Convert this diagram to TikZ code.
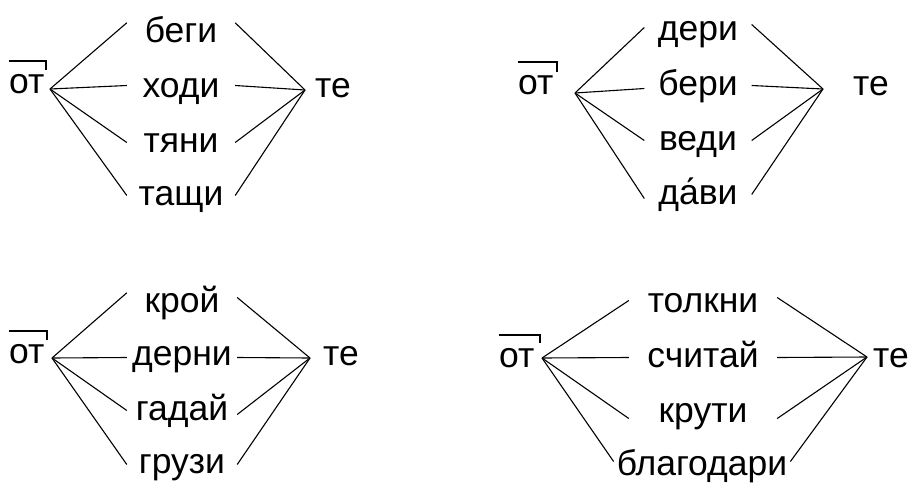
\documentclass[tikz,border=0pt]{standalone}
\usepackage{fontspec}
\setmainfont{Liberation Sans}
\begin{document}
\begin{tikzpicture}[x=1pt,y=-1pt,
  wd/.style={font=\fontsize{35.5}{40}\selectfont, inner xsep=0pt, inner ysep=0pt, text height=19pt, text depth=0pt, anchor=base},
  lbl/.style={font=\fontsize{35.5}{40}\selectfont, inner sep=0pt, text height=19pt, text depth=0pt, anchor=base west},
  ln/.style={line width=1.1pt},
  ovl/.style={line width=1.4pt}]
\useasboundingbox (0,0) rectangle (913,485);

% ---------- group 1 ----------
\node[lbl] (o1) at (9,93) {от};
\draw[ovl] ([yshift=32pt]o1.base west) -- ++(37,0) -- ++(0,9);
\coordinate (jl1) at (50,89);
\coordinate (jr1) at (305,90);
\node[wd, minimum width=108pt] (a1) at (181,42) {беги};
\node[wd, minimum width=108pt] (a2) at (181,97) {ходи};
\node[wd, minimum width=108pt] (a3) at (181,152) {тяни};
\node[wd, minimum width=108pt] (a4) at (181,205) {тащи};
\node[lbl] (t1) at (315,97) {те};
\draw[ln] (jl1) -- (a1.north west);
\draw[ln] (jl1) -- ([yshift=2pt]a2.west);
\draw[ln] (jl1) -- (a3.west);
\draw[ln] (jl1) -- (a4.west);
\draw[ln] (a1.north east) -- (jr1);
\draw[ln] ([yshift=2pt]a2.east) -- (jr1);
\draw[ln] (a3.east) -- (jr1);
\draw[ln] (a4.east) -- (jr1);

% ---------- group 2 ----------
\node[lbl] (o2) at (518,94) {от};
\draw[ovl] ([yshift=32pt]o2.base west) -- ++(39,0) -- ++(0,10);
\coordinate (jl2) at (575,93);
\coordinate (jr2) at (823,89);
\node[wd, minimum width=107pt] (b1) at (698,40) {дери};
\node[wd, minimum width=107pt] (b2) at (698,95) {бери};
\node[wd, minimum width=107pt] (b3) at (698,150) {веди};
\node[wd, minimum width=107pt] (b4) at (698,204) {да́ви};
\node[lbl] (t2) at (853,95) {те};
\draw[ln] (jl2) -- ([yshift=3pt]b1.west);
\draw[ln] (jl2) -- ([yshift=-3pt]b2.west);
\draw[ln] (jl2) -- (b3.west);
\draw[ln] (jl2) -- ([yshift=-4pt]b4.west);
\draw[ln] ([yshift=6pt]b1.east) -- (jr2);
\draw[ln] (b2.east) -- (jr2);
\draw[ln] (b3.east) -- (jr2);
\draw[ln] (b4.east) -- (jr2);

% ---------- group 3 ----------
\node[lbl] (o3) at (9,363) {от};
\draw[ovl] ([yshift=32pt]o3.base west) -- ++(38,0) -- ++(0,9);
\coordinate (jl3) at (52,358);
\coordinate (jr3) at (310,358);
\node[wd, minimum width=110pt] (c1) at (182,312) {крой};
\node[wd, minimum width=110pt] (c2) at (182,365) {дерни};
\node[wd, minimum width=110pt] (c3) at (182,420) {гадай};
\node[wd, minimum width=110pt] (c4) at (182,473) {грузи};
\node[lbl] (t3) at (323,365) {те};
\draw[ln] (jl3) -- (c1.north west);
\draw[ln] (jl3) -- ([yshift=-2pt]c2.west);
\draw[ln] (jl3) -- (c3.west);
\draw[ln] (jl3) -- ([yshift=-1pt]c4.west);
\draw[ln] ([yshift=5pt]c1.east) -- (jr3);
\draw[ln] ([yshift=-2pt]c2.east) -- (jr3);
\draw[ln] ([yshift=-4pt]c3.east) -- (jr3);
\draw[ln] ([yshift=-1pt]c4.east) -- (jr3);

% ---------- group 4 ----------
\node[lbl] (o4) at (499,367) {от};
\draw[ovl] ([yshift=32pt]o4.base west) -- ++(41,0) -- ++(0,8);
\coordinate (jl4) at (542,358);
\coordinate (jr4) at (867,357);
\node[wd, minimum width=148pt] (d1) at (703,312) {толкни};
\node[wd, minimum width=148pt] (d2) at (703,367) {считай};
\node[wd, minimum width=148pt] (d3) at (703,422) {крути};
\node[wd, minimum width=148pt, inner xsep=3pt] (d4) at (702,475) {благодари};
\node[lbl] (t4) at (873,367) {те};
\draw[ln] (jl4) -- ([yshift=2pt]d1.west);
\draw[ln] (jl4) -- (d2.west);
\draw[ln] (jl4) -- ([yshift=-6pt]d3.west);
\draw[ln] (jl4) -- ([yshift=4pt]d4.west);
\draw[ln] ([yshift=5pt]d1.east) -- (jr4);
\draw[ln] (d2.east) -- (jr4);
\draw[ln] ([yshift=-6pt]d3.east) -- (jr4);
\draw[ln] ([yshift=4pt]d4.east) -- (jr4);
\end{tikzpicture}
\end{document}
